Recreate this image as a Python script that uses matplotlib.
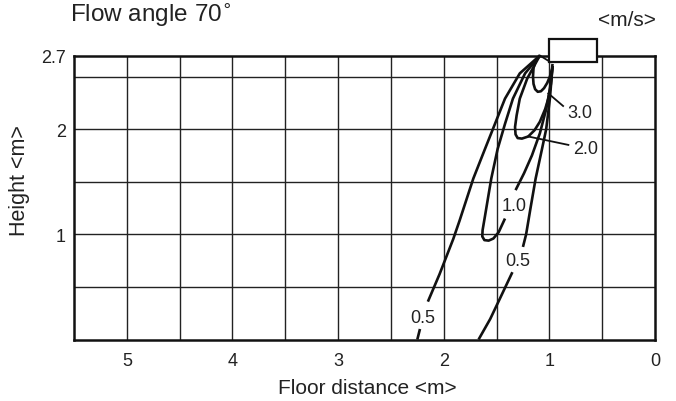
import matplotlib
matplotlib.use("Agg")
import matplotlib.pyplot as plt
from matplotlib.patches import Rectangle

plt.rcParams['font.family'] = ['Liberation Sans', 'DejaVu Sans']

# contour lines <m/s>, (floor distance, height)
v30_x = [1.09, 1.13, 1.15, 1.155, 1.15, 1.135, 1.11, 1.08, 1.05, 1.02, 0.995, 0.975, 0.97]
v30_y = [2.70, 2.65, 2.58, 2.50, 2.43, 2.38, 2.355, 2.36, 2.39, 2.44, 2.50, 2.57, 2.62]

v20_x = [1.09, 1.21, 1.28, 1.31, 1.325, 1.32, 1.30, 1.26, 1.20, 1.14, 1.09, 1.04, 1.01, 0.985, 0.97]
v20_y = [2.70, 2.48, 2.29, 2.13, 2.02, 1.95, 1.915, 1.91, 1.93, 1.99, 2.07, 2.19, 2.29, 2.43, 2.60]

v10a_x = [1.09, 1.23, 1.345, 1.42, 1.49, 1.55, 1.61, 1.632, 1.635, 1.615, 1.575, 1.53, 1.48, 1.42]
v10a_y = [2.70, 2.53, 2.29, 2.05, 1.81, 1.53, 1.17, 1.04, 0.98, 0.945, 0.94, 0.96, 1.02, 1.15]
v10b_x = [1.32, 1.24, 1.165, 1.09, 1.03, 0.995, 0.97]
v10b_y = [1.42, 1.58, 1.75, 1.96, 2.19, 2.38, 2.60]

v05ra_x = [0.97, 0.995, 1.03, 1.07, 1.13, 1.18, 1.22, 1.25]
v05ra_y = [2.60, 2.29, 2.00, 1.81, 1.53, 1.24, 1.00, 0.88]
v05rb_x = [1.35, 1.47, 1.56, 1.67]
v05rb_y = [0.64, 0.385, 0.195, 0.0]

v05la_x = [1.09, 1.28, 1.42, 1.515, 1.61, 1.72, 1.85, 1.91, 2.04, 2.15]
v05la_y = [2.70, 2.53, 2.29, 2.05, 1.81, 1.53, 1.13, 0.955, 0.62, 0.36]
v05lb_x = [2.225, 2.25]
v05lb_y = [0.10, 0.0]

labels = ['3.0', '2.0', '1.0', '0.5', '0.5']
label_x = [0.71, 0.66, 1.33, 1.30, 2.20]
label_y = [2.16, 1.82, 1.27, 0.75, 0.205]

# leader lines for 3.0 and 2.0
lead30_x = [1.01, 0.87]
lead30_y = [2.34, 2.22]
lead20_x = [1.20, 0.82]
lead20_y = [1.93, 1.85]

# outlet
outlet_x = [1.09, 0.994]
outlet_y = [2.70, 2.64]

xticks = [5, 4, 3, 2, 1, 0]
yticks = [1, 2, 2.7]
ytick_labels = ['1', '2', '2.7']
xgrid = [0.5, 1, 1.5, 2, 2.5, 3, 3.5, 4, 4.5, 5]
ygrid = [0.5, 1, 1.5, 2, 2.5]

fig = plt.figure(figsize=(6.76, 4.02), dpi=100)
ax = fig.add_axes([74 / 676, (402 - 340.5) / 402, (655 - 74) / 676, (340.5 - 56.5) / 402])
ax.set_xlim(5.5, 0)
ax.set_ylim(0, 2.7)

for g in xgrid:
    ax.axvline(g, color='#222222', lw=1.0, zorder=1)
for g in ygrid:
    ax.axhline(g, color='#222222', lw=1.0, zorder=1)

lw = 1.9
for xs, ys in [(v30_x, v30_y), (v20_x, v20_y), (v10a_x, v10a_y), (v10b_x, v10b_y),
               (v05ra_x, v05ra_y), (v05rb_x, v05rb_y), (v05la_x, v05la_y), (v05lb_x, v05lb_y)]:
    ax.plot(xs, ys, color='#111111', lw=lw, solid_capstyle='butt', solid_joinstyle='round',
            zorder=3, clip_on=False)
ax.plot(lead30_x, lead30_y, color='#111111', lw=1.3, zorder=3)
ax.plot(lead20_x, lead20_y, color='#111111', lw=1.3, zorder=3)
ax.plot(outlet_x, outlet_y, color='#111111', lw=1.3, zorder=3, clip_on=False)

for t, x, y in zip(labels, label_x, label_y):
    ax.text(x, y, t, fontsize=13, ha='center', va='center', color='#222222')

ax.add_patch(Rectangle((0.55, 2.64), 0.45, 0.22, facecolor='white', edgecolor='#111111',
                       lw=1.6, clip_on=False, zorder=5))

ax.set_xticks(xticks)
ax.set_xticklabels([str(v) for v in xticks])
ax.set_yticks(yticks)
ax.set_yticklabels(ytick_labels)
ax.tick_params(length=0, labelsize=13, colors='#222222')
ax.tick_params(axis='x', pad=9)
ax.tick_params(axis='y', pad=6)
for s in ax.spines.values():
    s.set_linewidth(1.8)
    s.set_color('#111111')

fig.text(367 / 676, 1 - 389 / 402, 'Floor distance <m>', fontsize=15, ha='center', va='center', color='#222222')
fig.text(20 / 676, 1 - 181 / 402, 'Height <m>', fontsize=15.5, ha='center', va='center', rotation=90, color='#222222')
fig.text(627 / 676, 1 - 21 / 402, '<m/s>', fontsize=15, ha='center', va='center', color='#222222')
fig.text(70 / 676, 1 - 22 / 402, 'Flow angle 70$^{\\circ}$', fontsize=17.5, ha='left', va='baseline', color='#222222')

fig.savefig('out.png', dpi=100)
